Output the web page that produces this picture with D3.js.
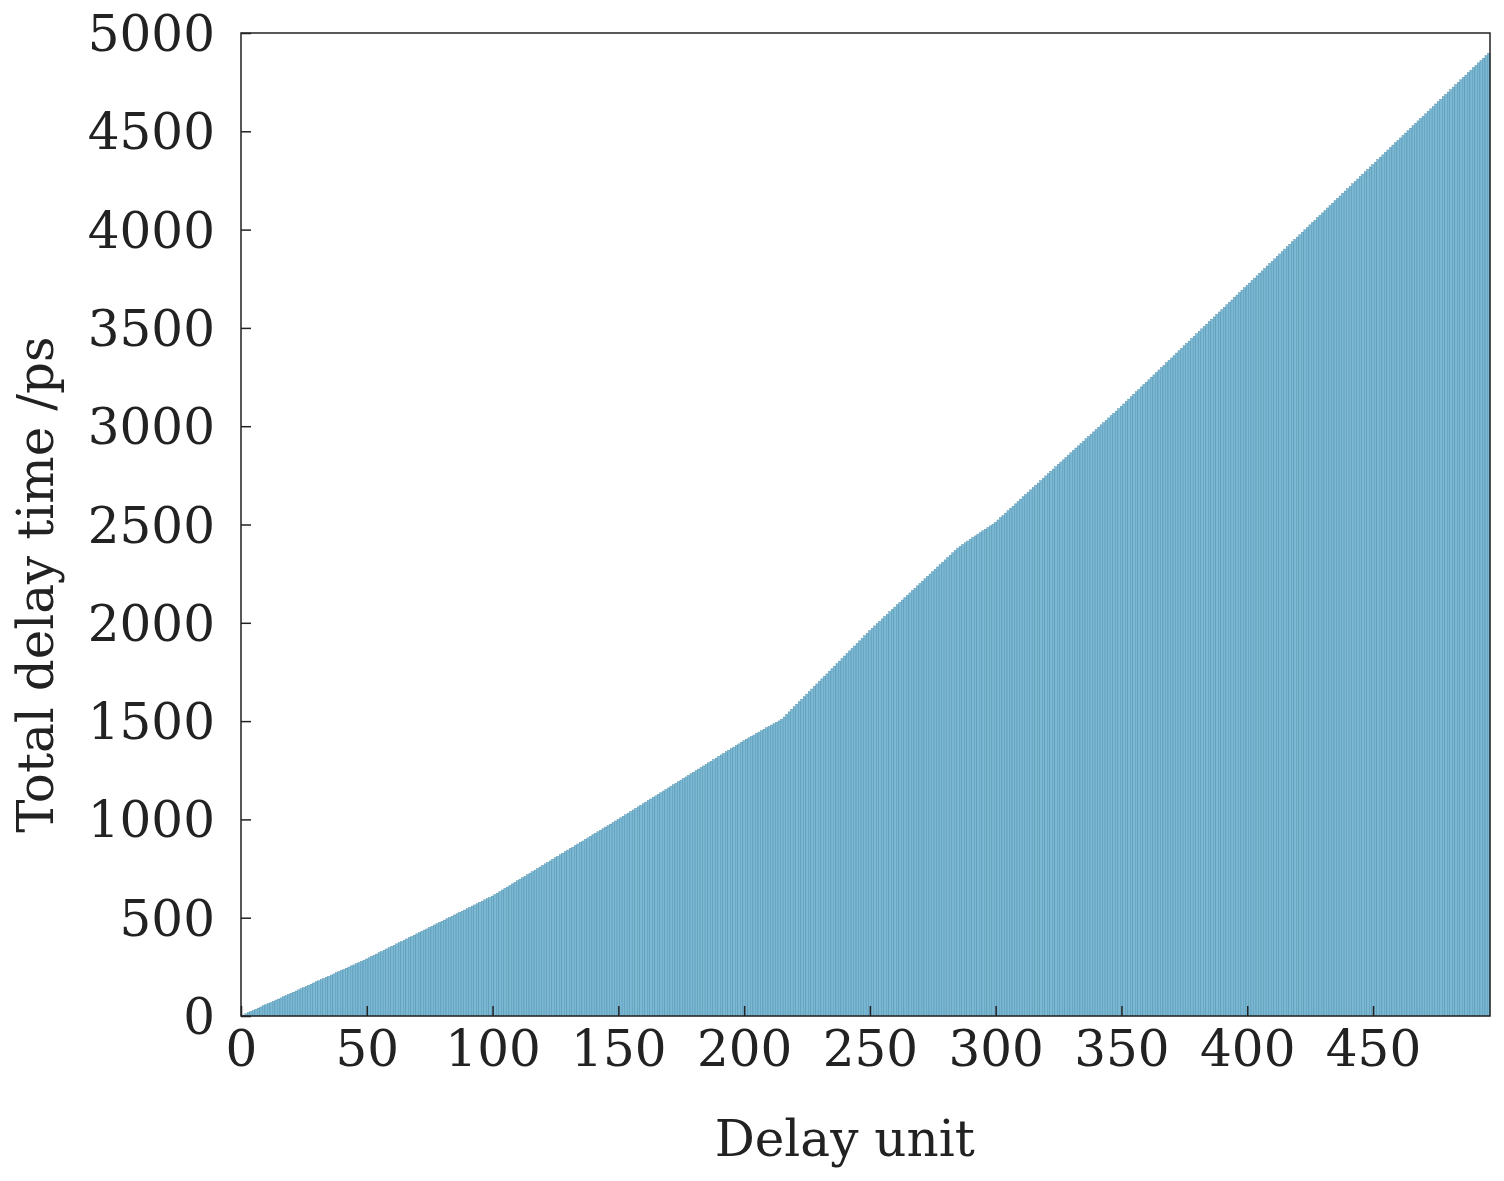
<!DOCTYPE html>
<html><head><meta charset="utf-8">
<script src="https://cdn.jsdelivr.net/npm/d3@7"></script>
<style>body{margin:0;background:#fff}text{font-family:"DejaVu Serif",serif;fill:#222}</style>
</head><body><div id="chart"></div>
<script>
// per-unit delay (ps) of each delay unit, units 1..496
const unitDelay = [
5,6,6,6,5,6,6,6,6,6, 5,6,6,6,5,6,6,6,6,6, 5,6,6,6,5,6,6,6,6,6, 5,6,6,6,5,6,6,6,6,6, 5,6,6,6,5,6,6,6,6,6,
6,7,6,6,7,6,7,6,6,7, 6,7,6,6,7,6,7,6,6,7, 6,7,6,6,7,6,7,6,6,7, 6,7,6,6,7,6,7,6,6,7, 6,7,6,6,7,6,7,6,6,7,
8,7,8,8,8,7,8,8,8,8, 8,7,8,8,8,7,8,8,8,8, 8,7,8,8,8,7,8,8,8,8, 8,7,8,8,8,7,8,8,8,8, 8,7,8,8,8,7,8,8,8,8,
8,8,8,8,8,8,8,8,8,8, 8,8,8,8,8,8,8,8,8,8, 8,8,8,8,8,8,8,8,8,8, 8,8,8,8,8,8,8,8,8,8, 8,8,8,8,8,8,8,8,8,8,
7,8,7,7,8,7,7,8,7,7, 7,7,7,7,8,12,13,13,13,13,
13,13,12,13,13,13,13,13,13,13, 13,13,12,13,13,13,13,13,13,13, 13,13,12,13,13,13,13,13,13,13,
12,12,12,12,12,12,12,12,12,12, 12,12,12,12,12,12,12,12,12,12, 12,12,12,12,12,12,12,12,12,12,
12,12,12,12,12,9,9,9,9,9, 9,8,9,8,9,8,9,8,9,9,
12,12,11,12,12,12,11,12,12,12, 12,12,11,12,12,12,11,12,12,12, 12,12,11,12,12,12,11,12,12,12,
12,12,11,12,12,12,11,12,12,12, 12,12,11,12,12,12,11,12,12,12,
12,13,12,12,13,12,12,13,12,12, 12,13,12,12,13,12,12,13,12,12, 12,13,12,12,13,12,12,13,12,12,
12,13,12,12,13,12,12,13,12,12, 12,13,12,12,13,12,12,13,12,12, 12,13,12,12,13,12,12,13,12,12,
12,13,12,12,13,12,12,13,12,12, 12,13,12,12,13,12,12,13,12,12, 12,13,12,12,13,12,12,13,12,12,
12,13,12,12,13,12,12,13,12,12, 12,13,12,12,13,12,12,13,12,12, 12,13,12,12,13,12,12,13,12,12,
12,13,12,12,13,12,12,13,12,12, 12,13,12,12,13,12,12,13,12,12,
12,13,12,12,13,12
];
const xTicks = [0,50,100,150,200,250,300,350,400,450];
const yTicks = [0,500,1000,1500,2000,2500,3000,3500,4000,4500,5000];

const totals = Array.from(d3.cumsum(unitDelay));
const data = totals.map((v, i) => ({unit: i + 1, total: v}));

const W = 1504, H = 1181;
const margin = {top: 33, right: 14, bottom: 165, left: 241};
const width = W - margin.left - margin.right, height = H - margin.top - margin.bottom;

const svg = d3.select("#chart").append("svg").attr("width", W).attr("height", H)
  .append("g").attr("transform", `translate(${margin.left},${margin.top})`);

const x = d3.scaleLinear().domain([0, 496.5]).range([0, width]);
const y = d3.scaleLinear().domain([0, 5000]).range([height, 0]);
const bw = x(1) - x(0);

svg.selectAll("rect.bar").data(data).join("rect")
  .attr("class", "bar")
  .attr("x", d => x(d.unit - 0.5))
  .attr("y", d => y(d.total))
  .attr("width", bw)
  .attr("height", d => height - y(d.total))
  .attr("fill", "#7ab8d4")
  .attr("stroke", "#4a8aa6")
  .attr("stroke-width", 0.4);

// frame
svg.append("rect").attr("width", width).attr("height", height)
  .attr("fill", "none").attr("stroke", "#222").attr("stroke-width", 1.5);

const fmt = d3.format("d");
const xa = svg.append("g").attr("transform", `translate(0,${height})`)
  .call(d3.axisBottom(x).tickValues(xTicks).tickFormat(fmt).tickSizeInner(-10).tickSizeOuter(0).tickPadding(14));
const ya = svg.append("g")
  .call(d3.axisLeft(y).tickValues(yTicks).tickFormat(fmt).tickSizeInner(-10).tickSizeOuter(0).tickPadding(26));
[xa, ya].forEach(a => {
  a.select(".domain").remove();
  a.selectAll("line").attr("stroke", "#222").attr("stroke-width", 1.5);
  a.selectAll("text").style("font-family", "DejaVu Serif").style("font-size", "50px").attr("fill", "#222");
});
ya.selectAll("text").attr("dy", "0.35em");

svg.append("text").attr("x", x(240)).attr("y", height + 140)
  .attr("text-anchor", "middle").style("font-size", "50px").text("Delay unit");
svg.append("text").attr("transform", `translate(-188,${height / 2 + 60}) rotate(-90)`)
  .attr("text-anchor", "middle").style("font-size", "50px").text("Total delay time /ps");
</script></body></html>
